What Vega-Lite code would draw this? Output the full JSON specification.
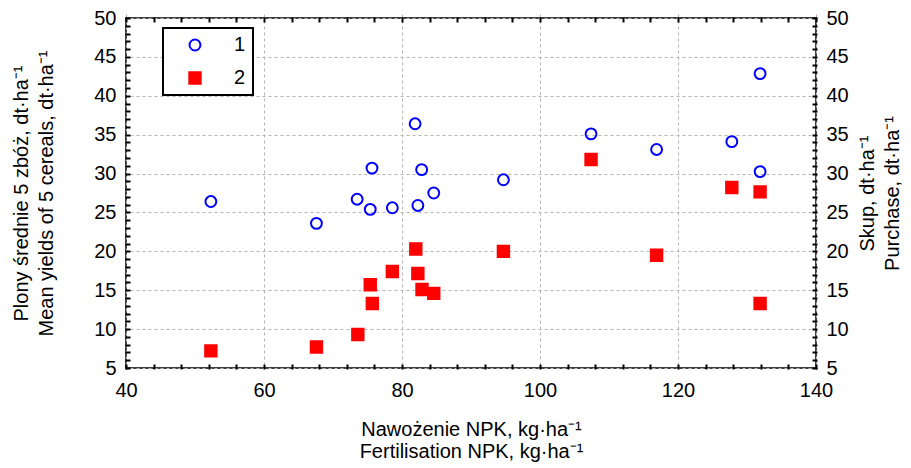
{
  "$schema": "https://vega.github.io/schema/vega-lite/v6.json",
  "width": 690,
  "height": 350,
  "autosize": {"type": "none"},
  "padding": {"left": 126, "top": 18, "right": 95, "bottom": 100},
  "background": "white",
  "config": {
    "view": {"stroke": "black", "strokeWidth": 1.5},
    "font": "Liberation Sans",
    "axis": {
      "labelFont": "Liberation Sans",
      "labelFontSize": 20,
      "labelColor": "black",
      "titleFont": "Liberation Sans",
      "titleFontSize": 20,
      "titleFontWeight": "normal",
      "titleColor": "black",
      "titleLineHeight": 25,
      "domain": false,
      "offset": -4,
      "ticks": true,
      "tickColor": "black",
      "tickOpacity": 1,
      "tickWidth": 2,
      "tickSize": 5,
      "gridColor": "#b4b4b4",
      "gridDash": [3, 3],
      "gridWidth": 1
    },
    "legend": {
      "orient": "none",
      "legendX": 37,
      "legendY": 10,
      "strokeColor": "black",
      "strokeWidth": 2,
      "fillColor": "white",
      "padding": 7,
      "symbolOffset": 15,
      "labelOffset": 29,
      "labelFont": "Liberation Sans",
      "labelFontSize": 20,
      "labelColor": "black",
      "rowPadding": 13,
      "symbolStrokeWidth": 2
    }
  },
  "data": {
    "values": [
      {"npk": 52.3, "series": "1", "value": 26.4},
      {"npk": 67.6, "series": "1", "value": 23.6},
      {"npk": 73.5, "series": "1", "value": 26.7},
      {"npk": 75.4, "series": "1", "value": 25.4},
      {"npk": 75.65, "series": "1", "value": 30.7},
      {"npk": 78.6, "series": "1", "value": 25.6},
      {"npk": 81.9, "series": "1", "value": 36.4},
      {"npk": 82.3, "series": "1", "value": 25.9},
      {"npk": 82.85, "series": "1", "value": 30.5},
      {"npk": 84.6, "series": "1", "value": 27.5},
      {"npk": 94.7, "series": "1", "value": 29.2},
      {"npk": 107.4, "series": "1", "value": 35.1},
      {"npk": 116.9, "series": "1", "value": 33.1},
      {"npk": 127.8, "series": "1", "value": 34.1},
      {"npk": 131.9, "series": "1", "value": 42.85},
      {"npk": 131.9, "series": "1", "value": 30.25},
      {"npk": 52.3, "series": "2", "value": 7.2},
      {"npk": 67.6, "series": "2", "value": 7.7},
      {"npk": 73.6, "series": "2", "value": 9.3},
      {"npk": 75.4, "series": "2", "value": 15.7},
      {"npk": 75.7, "series": "2", "value": 13.3},
      {"npk": 78.6, "series": "2", "value": 17.4},
      {"npk": 82.0, "series": "2", "value": 20.3},
      {"npk": 82.3, "series": "2", "value": 17.15},
      {"npk": 82.9, "series": "2", "value": 15.1},
      {"npk": 84.6, "series": "2", "value": 14.6},
      {"npk": 94.7, "series": "2", "value": 20.0},
      {"npk": 107.4, "series": "2", "value": 31.8},
      {"npk": 116.9, "series": "2", "value": 19.5},
      {"npk": 127.8, "series": "2", "value": 28.2},
      {"npk": 131.9, "series": "2", "value": 27.65},
      {"npk": 131.9, "series": "2", "value": 13.3}
    ]
  },
  "layer": [
    {
      "mark": {"type": "point", "strokeWidth": 2, "opacity": 1},
      "encoding": {
        "x": {
          "field": "npk",
          "type": "quantitative",
          "scale": {"domain": [40, 140], "nice": false, "zero": false},
          "axis": {
            "orient": "bottom",
            "values": [40,44,48,52,56,60,64,68,72,76,80,84,88,92,96,100,104,108,112,116,120,124,128,132,136,140],
            "labelExpr": "datum.value % 20 === 0 ? datum.label : ''",
            "gridOpacity": {"condition": {"test": "datum.value % 20 === 0", "value": 1}, "value": 0},
            "labelPadding": 11,
            "labelFlush": false,
            "title": ["Nawożenie NPK, kg·ha⁻¹", "Fertilisation NPK, kg·ha⁻¹"],
            "titleLineHeight": 22,
            "titlePadding": 19
          }
        },
        "y": {
          "field": "value",
          "type": "quantitative",
          "scale": {"domain": [5, 50], "nice": false, "zero": false},
          "axis": {
            "orient": "left",
            "values": [5,6,7,8,9,10,11,12,13,14,15,16,17,18,19,20,21,22,23,24,25,26,27,28,29,30,31,32,33,34,35,36,37,38,39,40,41,42,43,44,45,46,47,48,49,50],
            "labelExpr": "datum.value % 5 === 0 ? datum.label : ''",
            "gridOpacity": {"condition": {"test": "datum.value % 5 === 0", "value": 1}, "value": 0},
            "labelPadding": 9,
            "labelFlush": false,
            "title": ["Plony średnie 5 zbóż, dt·ha⁻¹", "Mean yields of 5 cereals, dt·ha⁻¹"],
            "titlePadding": 37
          }
        },
        "fill": {
          "field": "series",
          "type": "nominal",
          "scale": {"domain": ["1", "2"], "range": ["rgba(255,255,255,0)", "#ff0000"]},
          "legend": {"title": null}
        },
        "stroke": {
          "field": "series",
          "type": "nominal",
          "scale": {"domain": ["1", "2"], "range": ["#0000ff", "#ff0000"]},
          "legend": {"title": null}
        },
        "shape": {
          "field": "series",
          "type": "nominal",
          "scale": {"domain": ["1", "2"], "range": ["circle", "square"]},
          "legend": {"title": null}
        },
        "size": {
          "field": "series",
          "type": "nominal",
          "scale": {"domain": ["1", "2"], "range": [118, 130]},
          "legend": {"title": null}
        }
      }
    },
    {
      "mark": {"type": "point", "opacity": 0},
      "encoding": {
        "x": {
          "field": "npk",
          "type": "quantitative",
          "scale": {"domain": [40, 140], "nice": false, "zero": false},
          "axis": {
            "orient": "top",
            "values": [40,44,48,52,56,60,64,68,72,76,80,84,88,92,96,100,104,108,112,116,120,124,128,132,136,140],
            "labels": false,
            "grid": false,
            "title": null
          }
        },
        "y": {
          "field": "value",
          "type": "quantitative",
          "scale": {"domain": [5, 50], "nice": false, "zero": false},
          "axis": {
            "orient": "right",
            "values": [5,6,7,8,9,10,11,12,13,14,15,16,17,18,19,20,21,22,23,24,25,26,27,28,29,30,31,32,33,34,35,36,37,38,39,40,41,42,43,44,45,46,47,48,49,50],
            "labelExpr": "datum.value % 5 === 0 ? datum.label : ''",
            "grid": false,
            "labelPadding": 9,
            "labelFlush": false,
            "title": ["Skup, dt·ha⁻¹", "Purchase, dt·ha⁻¹"],
            "titleAngle": 270,
            "titlePadding": 4
          }
        }
      }
    }
  ],
  "resolve": {"scale": {"x": "independent", "y": "independent"}, "axis": {"x": "independent", "y": "independent"}}
}
